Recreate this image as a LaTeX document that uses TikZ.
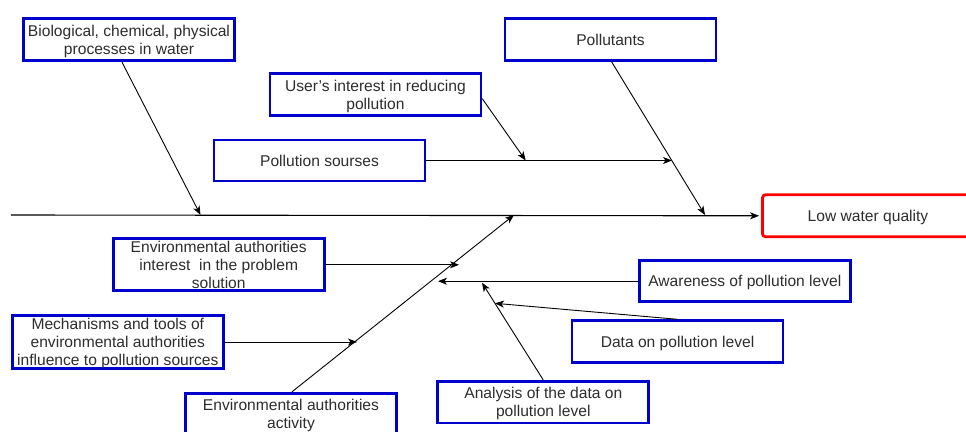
\documentclass[tikz,border=0pt]{standalone}
\usepackage{fontspec}
\setmainfont{Liberation Sans}
\usetikzlibrary{arrows.meta}
\definecolor{boxblue}{RGB}{0,0,204}
\definecolor{boxred}{RGB}{255,0,0}
\definecolor{txt}{RGB}{45,45,45}
\begin{document}
\begin{tikzpicture}[x=1pt,y=-1pt,
  cause/.style={draw=boxblue, line width=2.8pt, fill=white, minimum width=211pt, minimum height=42pt, inner sep=0pt, align=center, text depth=0pt, text=txt, font=\fontsize{15.6}{17.8}\selectfont},
  effect/.style={cause, draw=boxred, rounded corners=3pt},
  conn/.style={draw=black, line width=0.9pt, -{Stealth[length=9pt,width=7pt,inset=2.5pt]}},
  spine/.style={conn, line width=1.1pt},
]
\useasboundingbox[fill=white] (0,0) rectangle (966,431);

% nodes
\node[cause] (bio) at (129,39.8) {Biological, chemical, physical\\processes in water};
\node[cause] (users) at (375.4,94.7) {User's interest in reducing\\pollution};
\node[cause, minimum height=41pt] (psrc) at (319.5,160.5) {Pollution sourses};
\node[cause, minimum height=41.5pt] (pol) at (610.5,39.5) {Pollutants};
\node[effect] (low) at (868,215.8) {Low water quality};
\node[cause, minimum height=52pt] (envint) at (218.7,264.8) {Environmental authorities\\interest\ \ in the problem\\solution};
\node[cause, minimum height=53pt] (mech) at (117.8,342) {Mechanisms and tools of\\environmental authorities\\influence to pollution sources};
\node[cause] (envact) at (291,414.2) {Environmental authorities\\activity};
\node[cause, minimum height=41pt] (aware) at (744.8,281.2) {Awareness of pollution level};
\node[cause] (data) at (677.5,341.7) {Data on pollution level};
\node[cause, minimum height=41.5pt] (anal) at (543.3,402.2) {Analysis of the data on\\pollution level};

% junction coordinates
\coordinate (spineL) at (11,215);
\coordinate (jbio) at (200.5,215);
\coordinate (jpol) at (705,215);
\coordinate (jdiag) at (514,215);
\coordinate (jps) at (672,160.5);
\coordinate (jus) at (525.7,160.5);
\coordinate (jint) at (459,264.8);
\coordinate (jmech) at (357,342);
\coordinate (jaw) at (438,281.2);
\coordinate (jdata) at (495,303.3);
\coordinate (janal) at (482,282.7);

% connectors
\draw[spine] (spineL) -- ([xshift=-2pt]low.west);
\draw[conn] ([xshift=-7pt]bio.south) -- (jbio);
\draw[conn] ([xshift=1pt]pol.south) -- (jpol);
\draw[conn] (psrc.east) -- (jps);
\draw[conn] ([yshift=-4pt]users.east) -- (jus);
\draw[conn] ([xshift=1pt]envact.north) -- (jdiag);
\draw[conn] (envint.east) -- (jint);
\draw[conn] (mech.east) -- (jmech);
\draw[conn] (aware.west) -- (jaw);
\draw[conn] (data.north) -- (jdata);
\draw[conn] (anal.north) -- (janal);
\end{tikzpicture}
\end{document}
